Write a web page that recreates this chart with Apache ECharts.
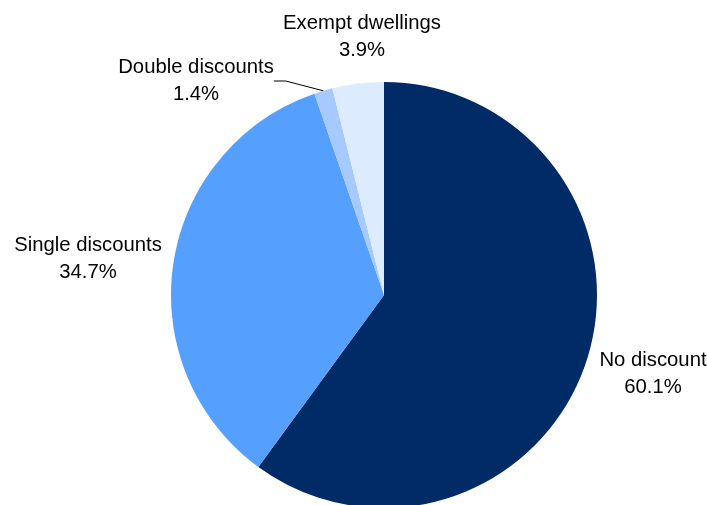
<!DOCTYPE html>
<html>
<head>
<meta charset="utf-8">
<script src="https://cdn.jsdelivr.net/npm/echarts@6/dist/echarts.min.js"></script>
<style>html,body{margin:0;padding:0;background:#fff;}#c{width:707px;height:505px;}</style>
</head>
<body>
<div id="c"></div>
<script>
var categories = ['No discount', 'Single discounts', 'Double discounts', 'Exempt dwellings'];
var values = [60.1, 34.7, 1.4, 3.9];
var colors = ['#002B66', '#559FFF', '#A6CAFF', '#DDEBFF'];
var labelPos = [[653, 374], [88, 259], [196, 81], [362, 37]];

var chart = echarts.init(document.getElementById('c'));
chart.setOption({
  animation: false,
  series: [{
    type: 'pie',
    center: [384, 295],
    radius: 213,
    startAngle: 90,
    clockwise: true,
    label: {
      show: true,
      position: 'outside',
      formatter: function (p) { return p.name + '\n' + p.value.toFixed(1) + '%'; },
      fontFamily: 'Liberation Sans, Arial, sans-serif',
      fontSize: 20.3,
      lineHeight: 27.5,
      color: '#000',
      align: 'center',
      overflow: 'none'
    },
    labelLine: { show: false },
    labelLayout: function (params) {
      var p = labelPos[params.dataIndex];
      return { x: p[0], y: p[1], align: 'center', verticalAlign: 'middle' };
    },
    data: categories.map(function (n, i) {
      var d = { name: n, value: values[i], itemStyle: { color: colors[i] } };
      if (i === 2) d.labelLine = { show: true, length: 12, length2: 12, lineStyle: { color: '#000', width: 1 } };
      return d;
    })
  }]
});
</script>
</body>
</html>
